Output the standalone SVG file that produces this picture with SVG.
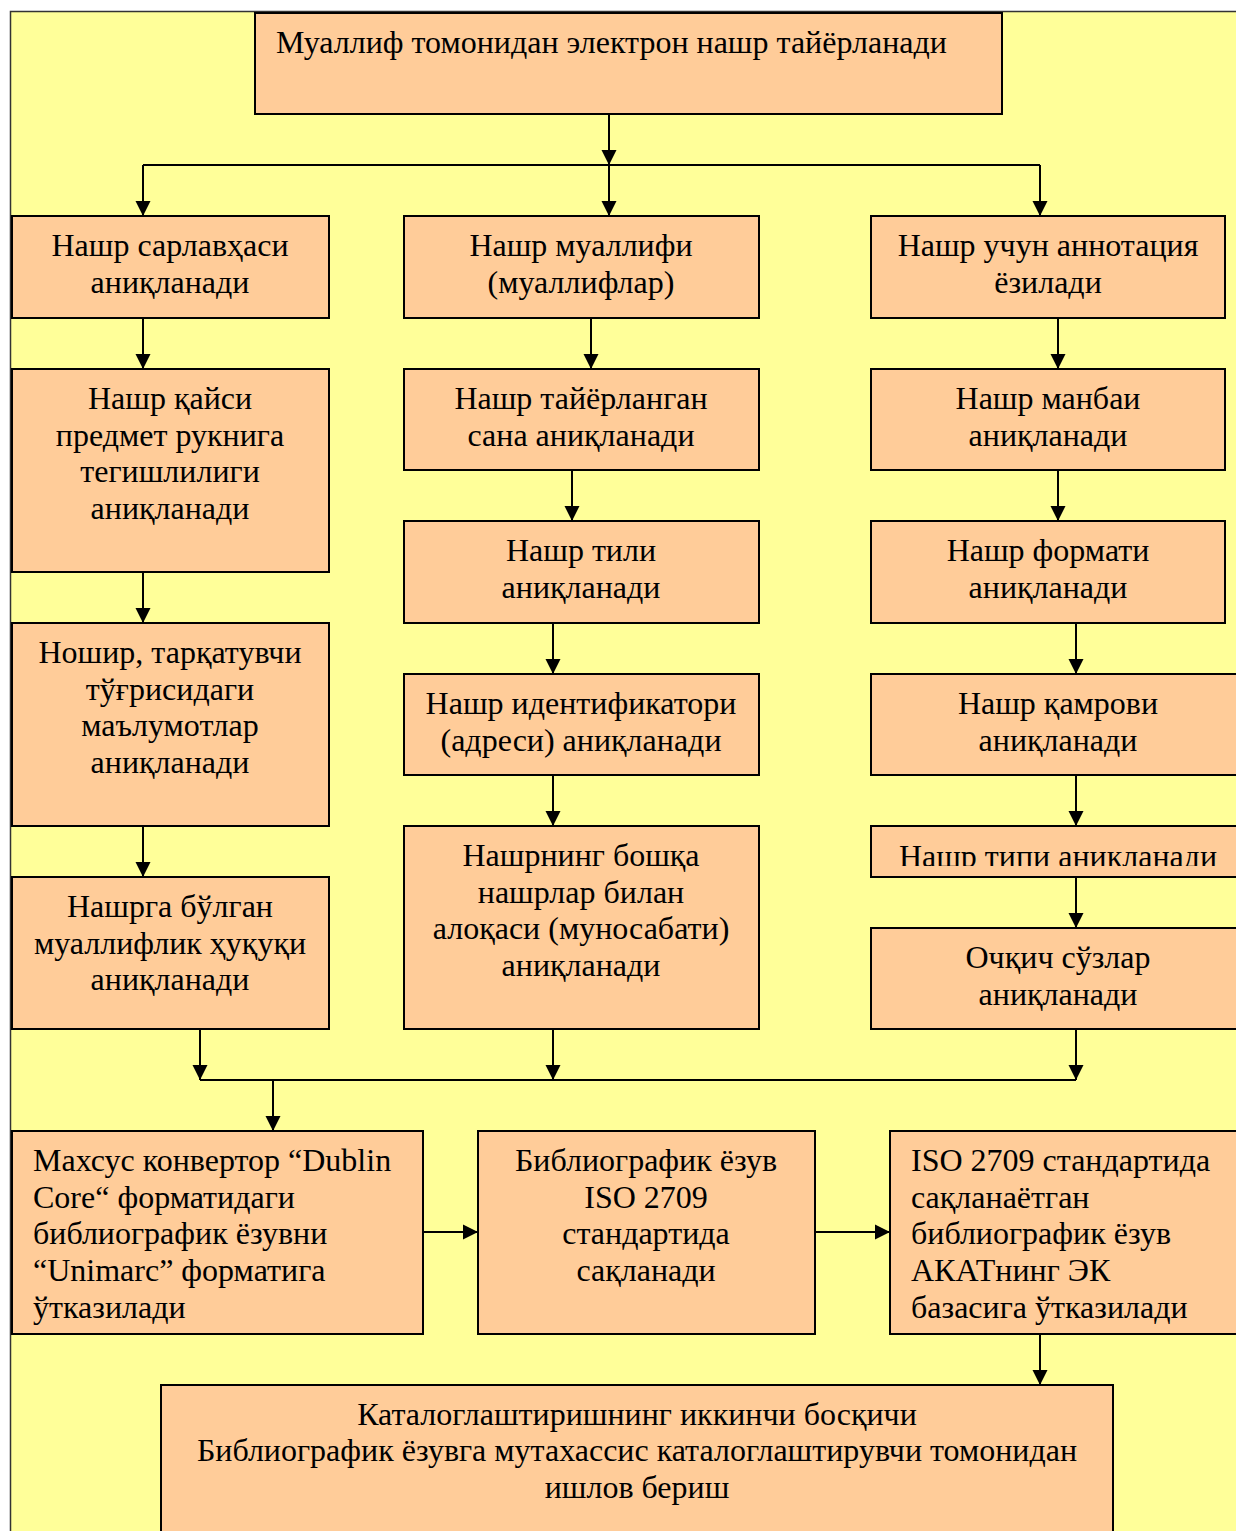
<svg xmlns="http://www.w3.org/2000/svg" width="1236" height="1531" viewBox="0 0 1236 1531">
<style>
.bx{fill:#FFCC99;stroke:#000;stroke-width:2}
.t{font-family:"Liberation Serif","Times New Roman",serif;font-size:32px;fill:#000}
.c{text-anchor:middle}
.ln{fill:none;stroke:#000;stroke-width:2}
.ar{fill:none;stroke:#000;stroke-width:2;marker-end:url(#ah)}
</style>
<defs>
<marker id="ah" markerUnits="userSpaceOnUse" markerWidth="16" markerHeight="16" viewBox="0 0 16 16" refX="15" refY="8" orient="auto">
<path d="M0,0.5 L15,8 L0,15.5 Z" fill="#000"/>
</marker>
<clipPath id="clipC5"><rect x="871" y="826" width="380" height="40"/></clipPath>
</defs>
<rect x="0" y="0" width="1236" height="1531" fill="#fff"/>
<rect x="10.5" y="11.5" width="1240" height="1540" fill="#FFFF99" stroke="#333" stroke-width="1.5"/>

<g id="connectors">
<path class="ar" d="M609,114 V165"/>
<path class="ln" d="M143,165 H1040"/>
<path class="ar" d="M143,165 V216"/>
<path class="ar" d="M609,165 V216"/>
<path class="ar" d="M1040,165 V216"/>
<path class="ar" d="M143,318 V369"/>
<path class="ar" d="M143,572 V623"/>
<path class="ar" d="M143,826 V877"/>
<path class="ar" d="M591,318 V369"/>
<path class="ar" d="M572,470 V521"/>
<path class="ar" d="M553,623 V674"/>
<path class="ar" d="M553,775 V826"/>
<path class="ar" d="M1058,318 V369"/>
<path class="ar" d="M1058,470 V521"/>
<path class="ar" d="M1076,623 V674"/>
<path class="ar" d="M1076,775 V826"/>
<path class="ar" d="M1076,877 V928"/>
<path class="ar" d="M200,1029 V1080"/>
<path class="ar" d="M553,1029 V1080"/>
<path class="ar" d="M1076,1029 V1080"/>
<path class="ln" d="M200,1080 H1076"/>
<path class="ar" d="M273,1080 V1131"/>
<path class="ar" d="M423,1232 H478"/>
<path class="ar" d="M815,1232 H890"/>
<path class="ar" d="M1040,1334 V1385"/>
</g>

<g id="top">
<rect class="bx" x="255" y="13" width="747" height="101"/>
<text class="t" x="276" y="53">Муаллиф томонидан электрон нашр тайёрланади</text>
</g>

<g id="a1"><rect class="bx" x="12" y="216" width="317" height="102"/>
<text class="t c" x="170" y="256">Нашр сарлавҳаси</text><text class="t c" x="170" y="293">аниқланади</text></g>
<g id="a2"><rect class="bx" x="12" y="369" width="317" height="203"/>
<text class="t c" x="170" y="409">Нашр қайси</text><text class="t c" x="170" y="446">предмет рукнига</text><text class="t c" x="170" y="482">тегишлилиги</text><text class="t c" x="170" y="519">аниқланади</text></g>
<g id="a3"><rect class="bx" x="12" y="623" width="317" height="203"/>
<text class="t c" x="170" y="663">Ношир, тарқатувчи</text><text class="t c" x="170" y="700">тўғрисидаги</text><text class="t c" x="170" y="736">маълумотлар</text><text class="t c" x="170" y="773">аниқланади</text></g>
<g id="a4"><rect class="bx" x="12" y="877" width="317" height="152"/>
<text class="t c" x="170" y="917">Нашрга бўлган</text><text class="t c" x="170" y="954">муаллифлик ҳуқуқи</text><text class="t c" x="170" y="990">аниқланади</text></g>

<g id="b1"><rect class="bx" x="404" y="216" width="355" height="102"/>
<text class="t c" x="581" y="256">Нашр муаллифи</text><text class="t c" x="581" y="293">(муаллифлар)</text></g>
<g id="b2"><rect class="bx" x="404" y="369" width="355" height="101"/>
<text class="t c" x="581" y="409">Нашр тайёрланган</text><text class="t c" x="581" y="446">сана аниқланади</text></g>
<g id="b3"><rect class="bx" x="404" y="521" width="355" height="102"/>
<text class="t c" x="581" y="561">Нашр тили</text><text class="t c" x="581" y="598">аниқланади</text></g>
<g id="b4"><rect class="bx" x="404" y="674" width="355" height="101"/>
<text class="t c" x="581" y="714">Нашр идентификатори</text><text class="t c" x="581" y="751">(адреси) аниқланади</text></g>
<g id="b5"><rect class="bx" x="404" y="826" width="355" height="203"/>
<text class="t c" x="581" y="866">Нашрнинг бошқа</text><text class="t c" x="581" y="903">нашрлар билан</text><text class="t c" x="581" y="939">алоқаси (муносабати)</text><text class="t c" x="581" y="976">аниқланади</text></g>

<g id="c1"><rect class="bx" x="871" y="216" width="354" height="102"/>
<text class="t c" x="1048" y="256">Нашр учун аннотация</text><text class="t c" x="1048" y="293">ёзилади</text></g>
<g id="c2"><rect class="bx" x="871" y="369" width="354" height="101"/>
<text class="t c" x="1048" y="409">Нашр манбаи</text><text class="t c" x="1048" y="446">аниқланади</text></g>
<g id="c3"><rect class="bx" x="871" y="521" width="354" height="102"/>
<text class="t c" x="1048" y="561">Нашр формати</text><text class="t c" x="1048" y="598">аниқланади</text></g>
<g id="c4"><rect class="bx" x="871" y="674" width="380" height="101"/>
<text class="t c" x="1058" y="714">Нашр қамрови</text><text class="t c" x="1058" y="751">аниқланади</text></g>
<g id="c5"><rect class="bx" x="871" y="826" width="380" height="51"/>
<text class="t c" x="1058" y="867" clip-path="url(#clipC5)">Нашр типи аниқланади</text></g>
<g id="c6"><rect class="bx" x="871" y="928" width="380" height="101"/>
<text class="t c" x="1058" y="968">Очқич сўзлар</text><text class="t c" x="1058" y="1005">аниқланади</text></g>

<g id="d1"><rect class="bx" x="12" y="1131" width="411" height="203"/>
<text class="t" x="33" y="1171">Махсус конвертор “Dublin</text><text class="t" x="33" y="1208">Core“ форматидаги</text><text class="t" x="33" y="1244">библиографик ёзувни</text><text class="t" x="33" y="1281">“Unimarc” форматига</text><text class="t" x="33" y="1318">ўтказилади</text></g>
<g id="d2"><rect class="bx" x="478" y="1131" width="337" height="203"/>
<text class="t c" x="646" y="1171">Библиографик ёзув</text><text class="t c" x="646" y="1208">ISO 2709</text><text class="t c" x="646" y="1244">стандартида</text><text class="t c" x="646" y="1281">сақланади</text></g>
<g id="d3"><rect class="bx" x="890" y="1131" width="360" height="203"/>
<text class="t" x="911" y="1171">ISO 2709 стандартида</text><text class="t" x="911" y="1208">сақланаётган</text><text class="t" x="911" y="1244">библиографик ёзув</text><text class="t" x="911" y="1281">АКАТнинг ЭК</text><text class="t" x="911" y="1318">базасига ўтказилади</text></g>

<g id="e"><rect class="bx" x="161" y="1385" width="952" height="160"/>
<text class="t c" x="637" y="1425">Каталоглаштиришнинг иккинчи босқичи</text><text class="t c" x="637" y="1461">Библиографик ёзувга мутахассис каталоглаштирувчи томонидан</text><text class="t c" x="637" y="1498">ишлов бериш</text></g>
</svg>
